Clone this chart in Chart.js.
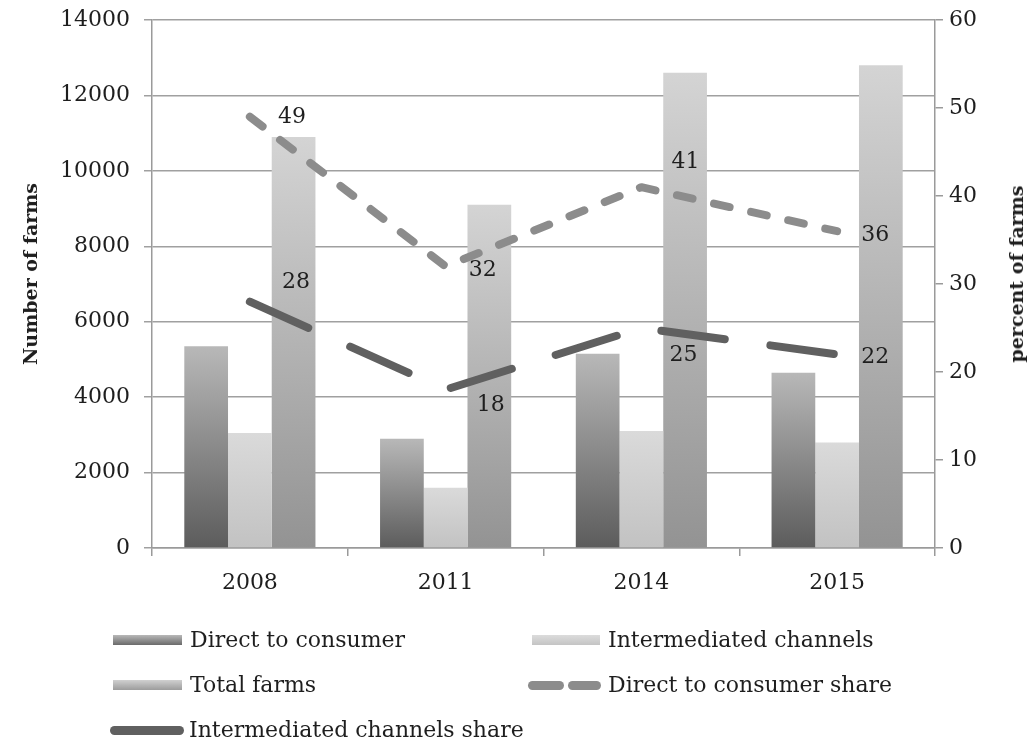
<!DOCTYPE html>
<html>
<head>
<meta charset="utf-8">
<script src="https://cdn.jsdelivr.net/npm/chart.js@4/dist/chart.umd.min.js"></script>
<style>
  body { margin: 0; background: #fff; }
  #wrap { position: relative; width: 1027px; height: 742px; font-family: 'DejaVu Serif', serif; color: #1e1e1e; }
  #chart { position: absolute; left: 0; top: 0; }
  .vtitle { position: absolute; top: 274px; transform: translate(-50%, -50%) rotate(-90deg);
            font-weight: bold; font-size: 19px; white-space: nowrap; }
  .leg { position: absolute; font-size: 22px; white-space: nowrap; line-height: 24px; }
  .sw { position: absolute; }
</style>
</head>
<body>
<div id="wrap">
  <canvas id="chart" width="1027" height="742"></canvas>
  <div class="vtitle" style="left:30px;">Number of farms</div>
  <div class="vtitle" style="left:1016px;">percent of farms</div>

  <!-- legenda -->
  <div class="sw" style="left:113px;top:635px;width:69px;height:10px;background:linear-gradient(#b8b8b8,#6a6a6a);"></div>
  <div class="leg" style="left:190px;top:628px;">Direct to consumer</div>
  <div class="sw" style="left:532px;top:635px;width:68px;height:10px;background:linear-gradient(#dcdcdc,#c4c4c4);"></div>
  <div class="leg" style="left:608px;top:628px;">Intermediated channels</div>
  <div class="sw" style="left:113px;top:680px;width:69px;height:10px;background:linear-gradient(#d0d0d0,#9c9c9c);"></div>
  <div class="leg" style="left:190px;top:673px;">Total farms</div>
  <div class="sw" style="left:528px;top:681px;width:36px;height:9px;border-radius:5px;background:#8c8c8c;"></div>
  <div class="sw" style="left:568px;top:681px;width:33px;height:9px;border-radius:5px;background:#8c8c8c;"></div>
  <div class="leg" style="left:608px;top:673px;">Direct to consumer share</div>
  <div class="sw" style="left:110px;top:726px;width:74px;height:9px;border-radius:5px;background:#606060;"></div>
  <div class="leg" style="left:189px;top:718px;">Intermediated channels share</div>
</div>

<script>
// anos e valores
const years = ['2008', '2011', '2014', '2015'];
const directFarms = [5350, 2900, 5150, 4650];
const intermediatedFarms = [3050, 1600, 3100, 2800];
const totalFarms = [10900, 9100, 12600, 12800];
const directShare = [49, 32, 41, 36];
const intermediatedShare = [28, 18, 25, 22];

// deslocamento dos rótulos em relação ao ponto (px)
const directLabelOffsets = [[42, 0], [37, 4], [44, -25], [38, 4]];
const interLabelOffsets = [[46, -19], [45, 16], [42, 27], [38, 3]];

// gradiente vertical para cada barra
function barGradient(topColor, bottomColor) {
    return function(ctx) {
        const chart = ctx.chart;
        if (!chart.chartArea || ctx.type !== 'data') return bottomColor;
        const y = chart.scales.y;
        const top = y.getPixelForValue(ctx.raw);
        const bottom = y.getPixelForValue(0);
        if (!isFinite(top) || top === bottom) return bottomColor;
        const g = chart.ctx.createLinearGradient(0, top, 0, bottom);
        g.addColorStop(0, topColor);
        g.addColorStop(1, bottomColor);
        return g;
    };
}

// escreve os valores percentuais ao lado dos pontos
const shareLabels = {
    id: 'shareLabels',
    afterDatasetsDraw(chart) {
        const c = chart.ctx;
        c.save();
        c.font = '22px "DejaVu Serif"';
        c.fillStyle = '#1e1e1e';
        c.textAlign = 'center';
        c.textBaseline = 'middle';
        [[3, directShare, directLabelOffsets], [4, intermediatedShare, interLabelOffsets]].forEach(([idx, values, offs]) => {
            const meta = chart.getDatasetMeta(idx);
            meta.data.forEach((pt, i) => {
                c.fillText(String(values[i]), pt.x + offs[i][0], pt.y + offs[i][1]);
            });
        });
        c.restore();
    }
};

// largura fixa dos eixos verticais, sem folga extra em cima/baixo
function fixVertical(width) {
    return function(scale) {
        scale.width = width;
        scale.paddingTop = 0;
        scale.paddingBottom = 0;
    };
}

Chart.defaults.font.family = '"DejaVu Serif", serif';
Chart.defaults.font.size = 22;
Chart.defaults.color = '#1e1e1e';

new Chart(document.getElementById('chart'), {
    type: 'bar',
    data: {
        labels: years,
        datasets: [
            {
                label: 'Direct to consumer',
                data: directFarms,
                backgroundColor: barGradient('#b8b8b8', '#5c5c5c'),
                order: 1
            },
            {
                label: 'Intermediated channels',
                data: intermediatedFarms,
                backgroundColor: barGradient('#dadada', '#c2c2c2'),
                order: 1
            },
            {
                label: 'Total farms',
                data: totalFarms,
                backgroundColor: barGradient('#d4d4d4', '#939393'),
                order: 1
            },
            {
                type: 'line',
                label: 'Direct to consumer share',
                data: directShare,
                yAxisID: 'y1',
                borderColor: '#8c8c8c',
                borderWidth: 8,
                borderDash: [16, 22],
                borderCapStyle: 'round',
                borderJoinStyle: 'round',
                pointRadius: 0,
                tension: 0,
                order: 0
            },
            {
                type: 'line',
                label: 'Intermediated channels share',
                data: intermediatedShare,
                yAxisID: 'y1',
                borderColor: '#606060',
                borderWidth: 8,
                borderDash: [64, 46],
                borderCapStyle: 'round',
                borderJoinStyle: 'round',
                pointRadius: 0,
                tension: 0,
                order: 0
            }
        ]
    },
    options: {
        responsive: false,
        animation: false,
        layout: { padding: { left: 0, right: 0, top: 20, bottom: 0 } },
        datasets: {
            bar: { barPercentage: 1, categoryPercentage: 0.67 }
        },
        plugins: {
            legend: { display: false },
            tooltip: { enabled: false }
        },
        scales: {
            x: {
                offset: true,
                grid: { offset: true, drawOnChartArea: false, tickLength: 8, color: '#9a9a9a', lineWidth: 1.5 },
                border: { color: '#9a9a9a', width: 1.5 },
                ticks: { padding: 14 },
                afterFit(scale) { scale.height = 194; }
            },
            y: {
                position: 'left',
                min: 0,
                max: 14000,
                ticks: { stepSize: 2000, padding: 14, callback: v => String(v) },
                grid: { color: '#a0a0a0', lineWidth: 1.5, tickLength: 8 },
                border: { color: '#9a9a9a', width: 1.5 },
                afterFit: fixVertical(152)
            },
            y1: {
                position: 'right',
                min: 0,
                max: 60,
                ticks: { stepSize: 10, padding: 6, callback: v => String(v) },
                grid: { drawOnChartArea: false, tickLength: 8, color: '#9a9a9a', lineWidth: 1.5 },
                border: { color: '#9a9a9a', width: 1.5 },
                afterFit: fixVertical(92)
            }
        }
    },
    plugins: [shareLabels]
});
</script>
</body>
</html>
